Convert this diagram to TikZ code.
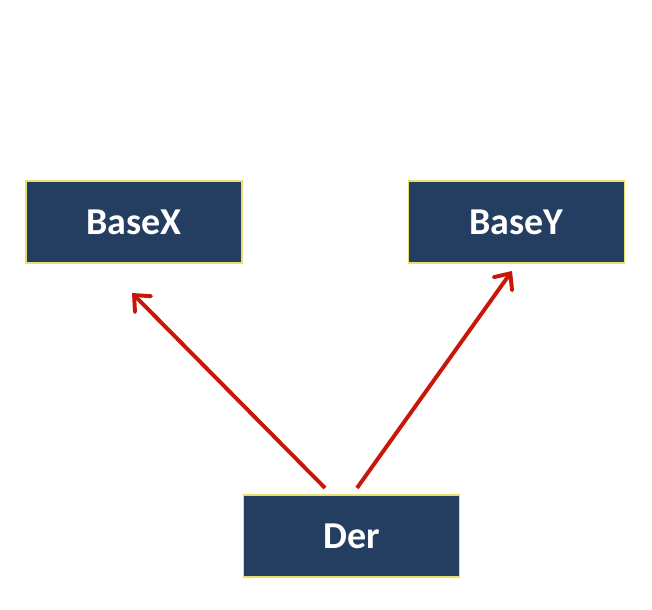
\documentclass[tikz,border=0pt]{standalone}
\usepackage{fontspec}
\setmainfont{Carlito}
\usetikzlibrary{arrows.meta}
\definecolor{boxblue}{RGB}{36,62,98}
\definecolor{boxedge}{RGB}{230,225,110}
\definecolor{arrowred}{RGB}{200,22,8}
\tikzset{
  cls/.style={draw=boxedge, line width=1pt, fill=boxblue, text=white,
    minimum width=5.4cm, minimum height=2.05cm, inner sep=0pt,
    font=\fontsize{27}{32}\selectfont\bfseries},
  inherit/.style={draw=arrowred, line width=2.8pt,
    -{Straight Barb[length=9pt,width=16pt,line cap=round]}}
}
\begin{document}
\begin{tikzpicture}[x=0.025cm, y=-0.025cm]
  \useasboundingbox (0,0) rectangle (652,610);
  \draw
    (134,222) node[cls] (basex){BaseX}
    (516.5,222) node[cls] (basey){BaseY}
    (351.5,536) node[cls] (der){Der};
  \coordinate (dxs) at (325,488);
  \coordinate (dxe) at (132,293);
  \coordinate (dys) at (357,488);
  \coordinate (dye) at (512,271);
  \begin{scope}
    \draw[inherit] (dxs) to (dxe);
    \draw[inherit] (dys) to (dye);
  \end{scope}
\end{tikzpicture}
\end{document}
